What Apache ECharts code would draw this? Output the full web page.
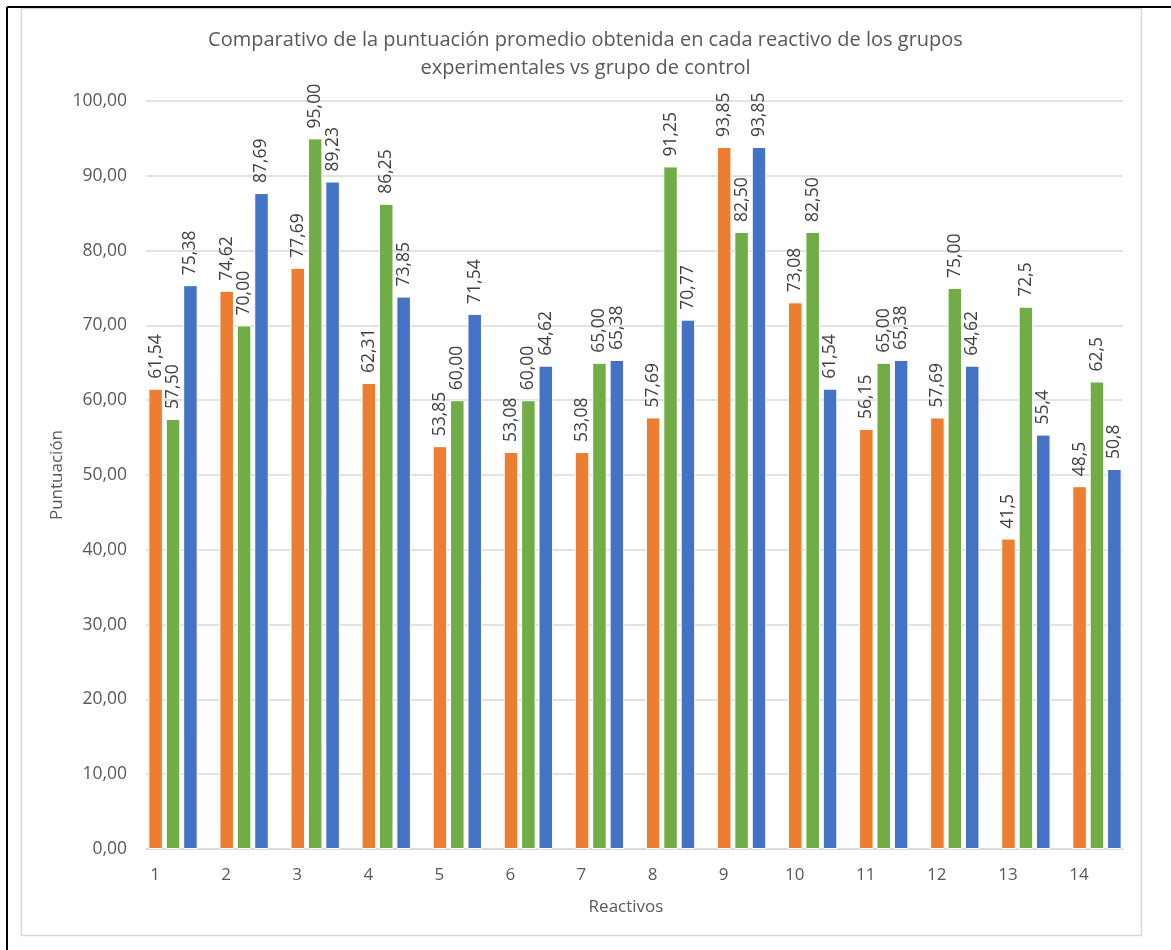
<!DOCTYPE html>
<html>
<head>
<meta charset="utf-8">
<script src="https://cdn.jsdelivr.net/npm/echarts@6/dist/echarts.min.js"></script>
<style>
html,body{margin:0;padding:0;background:#fff;}
#chart{width:1171px;height:950px;}
</style>
</head>
<body>
<div id="chart"></div>
<script>
const categories = ['1','2','3','4','5','6','7','8','9','10','11','12','13','14'];
const grupoNaranja = [61.54, 74.62, 77.69, 62.31, 53.85, 53.08, 53.08, 57.69, 93.85, 73.08, 56.15, 57.69, 41.5, 48.5];
const grupoVerde   = [57.50, 70.00, 95.00, 86.25, 60.00, 60.00, 65.00, 91.25, 82.50, 82.50, 65.00, 75.00, 72.5, 62.5];
const grupoAzul    = [75.38, 87.69, 89.23, 73.85, 71.54, 64.62, 65.38, 70.77, 93.85, 61.54, 65.38, 64.62, 55.4, 50.8];
const labelDecimals = [2,2,2,2,2,2,2,2,2,2,2,2,1,1];
const yTicks = [0,10,20,30,40,50,60,70,80,90,100];

const FONT = '"Open Sans", sans-serif';
const chart = echarts.init(document.getElementById('chart'), null, {renderer:'canvas'});

function fmt(v, idx){ return v.toFixed(labelDecimals[idx]).replace('.', ','); }

function barSeries(name, data, color){
  return {
    name, type:'bar', xAxisIndex:0, yAxisIndex:0, data,
    barWidth:14.5, barGap:'20%',
    itemStyle:{color, borderColor:'#ffffff', borderWidth:1},
    label:{
      show:true, position:'top', rotate:90, align:'left', verticalAlign:'middle',
      distance:10, fontFamily:FONT, fontSize:17.5, color:'#404040',
      formatter:p => fmt(p.value, p.dataIndex)
    }
  };
}

chart.setOption({
  animation:false,
  backgroundColor:'#ffffff',
  title:{
    text:'Comparativo de la puntuación promedio obtenida en cada reactivo de los grupos\nexperimentales vs grupo de control',
    left:'center', top:21,
    textStyle:{fontFamily:FONT, fontSize:20, fontWeight:'normal', color:'#595959', lineHeight:28}
  },
  graphic:[
    {type:'rect', shape:{x:21.5, y:8.5, width:1120, height:927}, style:{fill:'none', stroke:'#D9D9D9', lineWidth:1.5}, z:-1},
    {type:'line', shape:{x1:7, y1:7, x2:1171, y2:7}, style:{stroke:'#000', lineWidth:2}},
    {type:'line', shape:{x1:7, y1:7, x2:7, y2:950}, style:{stroke:'#000', lineWidth:2}}
  ],
  grid:[
    {left:137.5, right:38.5, top:101, bottom:101},
    {left:146, right:48, top:101, bottom:101}
  ],
  xAxis:[
    {type:'category', gridIndex:0, data:categories,
     axisLine:{show:false}, axisTick:{show:false},
     axisLabel:{fontFamily:FONT, fontSize:17, color:'#595959', margin:18, padding:[0,36,0,0]},
     name:'Reactivos', nameLocation:'middle', nameGap:50, nameMoveOverlap:false,
     nameTextStyle:{fontFamily:FONT, fontSize:17, color:'#595959', padding:[0,18,0,0]}
    },
    {type:'category', gridIndex:1, data:categories,
     axisLine:{show:true, lineStyle:{color:'#D9D9D9', width:1.5}}, axisTick:{show:false},
     axisLabel:{show:false}
    }
  ],
  yAxis:[
    {type:'value', gridIndex:0, min:0, max:100, interval:10,
     axisLabel:{show:false}, splitLine:{show:false}, axisLine:{show:false}, axisTick:{show:false}},
    {type:'value', gridIndex:1, min:0, max:100, interval:10,
     axisLabel:{fontFamily:FONT, fontSize:17.5, color:'#595959', margin:19,
       formatter:v => yTicks.includes(v) ? v.toFixed(2).replace('.', ',') : ''},
     splitLine:{show:true, lineStyle:{color:'#D9D9D9', width:1.5}},
     axisLine:{show:false}, axisTick:{show:false},
     name:'Puntuación', nameLocation:'middle', nameGap:80, nameMoveOverlap:false,
     nameTextStyle:{fontFamily:FONT, fontSize:17, color:'#595959'}
    }
  ],
  series:[
    barSeries('Grupo experimental 1', grupoNaranja, '#ED7D31'),
    barSeries('Grupo experimental 2', grupoVerde, '#70AD47'),
    barSeries('Grupo de control', grupoAzul, '#4472C4')
  ]
});
</script>
</body>
</html>
